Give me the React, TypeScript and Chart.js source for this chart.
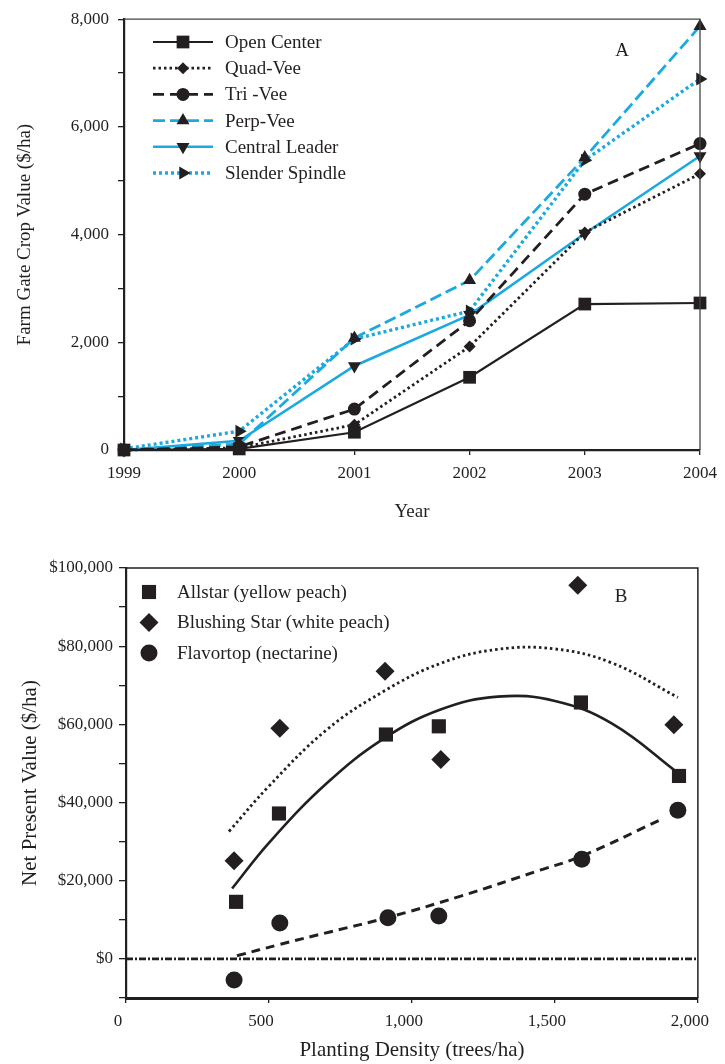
import React, { useEffect, useRef } from 'react';
import { Chart, registerables } from 'chart.js';

Chart.register(...registerables);

const INK = '#231f20';
const BLUE = '#1ba9e0';
const FONT = "'Liberation Serif', 'DejaVu Serif', serif";

// ---------- Panel A data ----------
const years = ['1999', '2000', '2001', '2002', '2003', '2004'];
const openCenter = [0, 20, 330, 1350, 2710, 2730];
const quadVee = [0, 40, 470, 1920, 4040, 5130];
const triVee = [0, 60, 760, 2400, 4750, 5690];
const perpVee = [0, 110, 2080, 3150, 5430, 7870];
const centralLeader = [0, 170, 1560, 2510, 4020, 5460];
const slenderSpindle = [20, 350, 2060, 2580, 5380, 6890];

// ---------- Panel B data ----------
const allstarDensity = [385, 535, 909, 1094, 1591, 1934];
const allstarNPV = [14600, 37200, 57400, 59500, 65600, 46800];
const blushingDensity = [378, 538, 906, 1101, 1580, 1916];
const blushingNPV = [25100, 59000, 73600, 51000, 95600, 59900];
const flavortopDensity = [378, 538, 916, 1094, 1594, 1930];
const flavortopNPV = [-5400, 9200, 10500, 11000, 25500, 38000];

// trend curves
const allstarTrendX = [371, 500, 700, 900, 1100, 1300, 1500, 1700, 1934];
const allstarTrendY = [18000, 29700, 44800, 56300, 63800, 67100, 66000, 60200, 47400];
const blushingTrendX = [360, 500, 700, 900, 1100, 1300, 1500, 1700, 1930];
const blushingTrendY = [32600, 44200, 58500, 68400, 75600, 79200, 79300, 75700, 66900];
const flavortopTrendX = [388, 538, 713, 916, 1168, 1448, 1594, 1878];
const flavortopTrendY = [800, 3700, 6900, 10600, 16000, 22700, 26300, 35900];

const zeroLineX = [0, 2000];
const zeroLineY = [0, 0];

const zip = (xs: number[], ys: number[]) => xs.map((x, i) => ({ x, y: ys[i] }));

function drawMarker(ctx: CanvasRenderingContext2D, style: string, x: number, y: number, r: number, rotation: number) {
  ctx.beginPath();
  if (style === 'rect') {
    const s = r * Math.SQRT1_2;
    ctx.rect(x - s, y - s, 2 * s, 2 * s);
  } else if (style === 'rectRot') {
    ctx.moveTo(x, y - r);
    ctx.lineTo(x + r, y);
    ctx.lineTo(x, y + r);
    ctx.lineTo(x - r, y);
    ctx.closePath();
  } else if (style === 'circle') {
    ctx.arc(x, y, r, 0, Math.PI * 2);
  } else if (style === 'triangle') {
    let rad = (rotation * Math.PI) / 180;
    ctx.moveTo(x + Math.sin(rad) * r, y - Math.cos(rad) * r);
    rad += (2 * Math.PI) / 3;
    ctx.lineTo(x + Math.sin(rad) * r, y - Math.cos(rad) * r);
    rad += (2 * Math.PI) / 3;
    ctx.lineTo(x + Math.sin(rad) * r, y - Math.cos(rad) * r);
    ctx.closePath();
  }
  ctx.fill();
}

const framePlugin = {
  id: 'frame',
  afterDatasetsDraw(chart: any, _args: any, o: any) {
    const { ctx, chartArea: a } = chart;
    ctx.save();
    ctx.strokeStyle = o.color;
    ctx.lineWidth = o.width;
    ctx.beginPath();
    ctx.moveTo(a.left, a.top);
    ctx.lineTo(a.right, a.top);
    ctx.lineTo(a.right, a.bottom);
    ctx.stroke();
    ctx.restore();
  },
};

const inlineLegendPlugin = {
  id: 'inlineLegend',
  afterDraw(chart: any, _args: any, o: any) {
    const ctx: CanvasRenderingContext2D = chart.ctx;
    ctx.save();
    ctx.font = `${o.fontSize}px ${FONT}`;
    ctx.textBaseline = 'middle';
    ctx.textAlign = 'left';
    let row = 0;
    chart.data.datasets.forEach((ds: any) => {
      if (!ds.label) return;
      const y = o.top + row * o.spacing;
      if (o.showLine) {
        ctx.save();
        ctx.strokeStyle = ds.borderColor;
        ctx.lineWidth = ds.borderWidth;
        ctx.setLineDash(ds.borderDash || []);
        ctx.beginPath();
        ctx.moveTo(o.lineStart, y);
        ctx.lineTo(o.lineEnd, y);
        ctx.stroke();
        ctx.restore();
      }
      ctx.fillStyle = ds.pointBackgroundColor;
      drawMarker(ctx, ds.pointStyle, o.markerX, y, o.markerScale * ds.pointRadius, ds.pointRotation || 0);
      ctx.fillStyle = INK;
      ctx.fillText(ds.label, o.textX, y + 1);
      row++;
    });
    ctx.restore();
  },
};

const panelLabelPlugin = {
  id: 'panelLabel',
  afterDraw(chart: any, _args: any, o: any) {
    const ctx: CanvasRenderingContext2D = chart.ctx;
    ctx.save();
    ctx.font = `${o.fontSize}px ${FONT}`;
    ctx.fillStyle = INK;
    ctx.textAlign = 'center';
    ctx.textBaseline = 'middle';
    ctx.fillText(o.text, o.x, o.y);
    ctx.restore();
  },
};

const tickFont = { family: FONT, size: 17 };

function lineSeries(label: string, data: number[], color: string, dash: number[], width: number, style: string, radius: number, rotation = 0) {
  return {
    label,
    data,
    borderColor: color,
    borderWidth: width,
    borderDash: dash,
    pointStyle: style,
    pointRotation: rotation,
    pointRadius: radius,
    pointBackgroundColor: INK,
    pointBorderColor: INK,
    pointBorderWidth: 0,
    tension: 0,
    fill: false,
    clip: false,
  };
}

function ChartA() {
  const ref = useRef<HTMLCanvasElement>(null);
  useEffect(() => {
    if (!ref.current) return;
    const chart = new Chart(ref.current, {
      type: 'line',
      data: {
        labels: years,
        datasets: [
          lineSeries('Open Center', openCenter, INK, [], 2.2, 'rect', 9),
          lineSeries('Quad-Vee', quadVee, INK, [2.5, 3], 2.8, 'rectRot', 6),
          lineSeries('Tri -Vee', triVee, INK, [11, 6], 2.8, 'circle', 6.5),
          lineSeries('Perp-Vee', perpVee, BLUE, [12, 5], 2.8, 'triangle', 7.5, 0),
          lineSeries('Central Leader', centralLeader, BLUE, [], 2.6, 'triangle', 7.5, 180),
          lineSeries('Slender Spindle', slenderSpindle, BLUE, [3, 3], 3.4, 'triangle', 7.5, 90),
        ] as any,
      },
      plugins: [framePlugin, inlineLegendPlugin, panelLabelPlugin],
      options: {
        animation: false,
        responsive: true,
        maintainAspectRatio: false,
        layout: { padding: { left: 0, right: 22, top: 17, bottom: 0 } },
        scales: {
          x: {
            type: 'category',
            offset: false,
            grid: { drawOnChartArea: false, drawTicks: true, tickLength: 5, color: INK, lineWidth: 1.3 },
            border: { display: true, color: INK, width: 2.2 },
            ticks: { color: INK, font: tickFont, padding: 8, maxRotation: 0, autoSkip: false },
            title: { display: true, text: 'Year', color: INK, font: { family: FONT, size: 19 }, padding: { top: 0, bottom: 6.6 } },
            afterFit: (s: any) => { s.height = 80; },
          },
          y: {
            type: 'linear',
            min: 0,
            max: 8000,
            grid: { drawOnChartArea: false, drawTicks: true, tickLength: 6, color: INK, lineWidth: 1.3 },
            border: { display: true, color: INK, width: 2.2 },
            ticks: {
              stepSize: 1000,
              color: INK,
              font: tickFont,
              padding: 9,
              callback: (v: any) => (Number(v) % 2000 === 0 ? Number(v).toLocaleString('en-US') : ''),
            },
            title: { display: true, text: 'Farm Gate Crop Value ($/ha)', color: INK, font: { family: FONT, size: 19 }, padding: { top: 13.6, bottom: 0 } },
            afterFit: (s: any) => { s.width = 124; },
          },
        },
        plugins: {
          legend: { display: false },
          tooltip: { enabled: false },
          frame: { color: '#444', width: 1.3 },
          inlineLegend: { top: 42, spacing: 26.2, showLine: true, lineStart: 153, lineEnd: 213, markerX: 183, textX: 225, fontSize: 19, markerScale: 1 },
          panelLabel: { text: 'A', x: 622, y: 51, fontSize: 19 },
        } as any,
      } as any,
    });
    return () => chart.destroy();
  }, []);
  return <canvas ref={ref} />;
}

function ChartB() {
  const ref = useRef<HTMLCanvasElement>(null);
  useEffect(() => {
    if (!ref.current) return;
    const scatter = (label: string, xs: number[], ys: number[], style: string, radius: number) => ({
      label,
      data: zip(xs, ys),
      showLine: false,
      pointStyle: style,
      pointRadius: radius,
      pointBackgroundColor: INK,
      pointBorderColor: INK,
      pointBorderWidth: 0,
      borderColor: INK,
      clip: false,
    });
    const trend = (xs: number[], ys: number[], dash: number[], width: number) => ({
      data: zip(xs, ys),
      showLine: true,
      borderColor: INK,
      borderWidth: width,
      borderDash: dash,
      pointRadius: 0,
      tension: 0.4,
      fill: false,
    });
    const chart = new Chart(ref.current, {
      type: 'line',
      data: {
        datasets: [
          scatter('Allstar (yellow peach)', allstarDensity, allstarNPV, 'rect', 10),
          scatter('Blushing Star (white peach)', blushingDensity, blushingNPV, 'rectRot', 9.5),
          scatter('Flavortop (nectarine)', flavortopDensity, flavortopNPV, 'circle', 8.5),
          trend(allstarTrendX, allstarTrendY, [], 2.6),
          trend(blushingTrendX, blushingTrendY, [2.5, 3], 2.8),
          trend(flavortopTrendX, flavortopTrendY, [9, 6], 3),
          {
            data: zip(zeroLineX, zeroLineY),
            showLine: true,
            borderColor: INK,
            borderWidth: 2.6,
            borderDash: [7, 2, 2, 2],
            pointRadius: 0,
            fill: false,
          },
        ] as any,
      },
      plugins: [framePlugin, inlineLegendPlugin, panelLabelPlugin],
      options: {
        animation: false,
        responsive: true,
        maintainAspectRatio: false,
        layout: { padding: { left: 0, right: 27, top: 28, bottom: 0 } },
        scales: {
          x: {
            type: 'linear',
            min: 0,
            max: 2000,
            grid: { drawOnChartArea: false, drawTicks: true, tickLength: 5, color: INK, lineWidth: 1.3 },
            border: { display: true, color: INK, width: 3 },
            ticks: {
              stepSize: 500,
              color: INK,
              font: tickFont,
              padding: 8,
              maxRotation: 0,
              labelOffset: -8,
              callback: (v: any) => Number(v).toLocaleString('en-US'),
            },
            title: { display: true, text: 'Planting Density (trees/ha)', color: INK, font: { family: FONT, size: 21 }, padding: { top: 0, bottom: 1.4 } },
            afterFit: (s: any) => { s.height = 66; },
          },
          y: {
            type: 'linear',
            min: -10000,
            max: 100000,
            grid: { drawOnChartArea: false, drawTicks: true, tickLength: 7, color: INK, lineWidth: 1.3 },
            border: { display: true, color: INK, width: 2.2 },
            ticks: {
              stepSize: 10000,
              color: INK,
              font: tickFont,
              padding: 6,
              callback: (v: any) => (Number(v) % 20000 === 0 ? '$' + Number(v).toLocaleString('en-US') : ''),
            },
            title: { display: true, text: 'Net Present Value ($/ha)', color: INK, font: { family: FONT, size: 21 }, padding: { top: 17.4, bottom: 0 } },
            afterFit: (s: any) => { s.width = 126; },
          },
        },
        plugins: {
          legend: { display: false },
          tooltip: { enabled: false },
          frame: { color: INK, width: 1.5 },
          inlineLegend: { top: 52, spacing: 30.5, showLine: false, markerX: 149, textX: 177, fontSize: 19, markerScale: 1 },
          panelLabel: { text: 'B', x: 621, y: 57, fontSize: 19 },
        } as any,
      } as any,
    });
    return () => chart.destroy();
  }, []);
  return <canvas ref={ref} />;
}

export default function App() {
  return (
    <div style={{ position: 'absolute', left: 0, top: 0, width: 725, height: 1064, background: '#fff' }}>
      <div style={{ position: 'absolute', left: 0, top: 0, width: 725, height: 530 }}>
        <ChartA />
      </div>
      <div style={{ position: 'absolute', left: 0, top: 540, width: 725, height: 524 }}>
        <ChartB />
      </div>
    </div>
  );
}
